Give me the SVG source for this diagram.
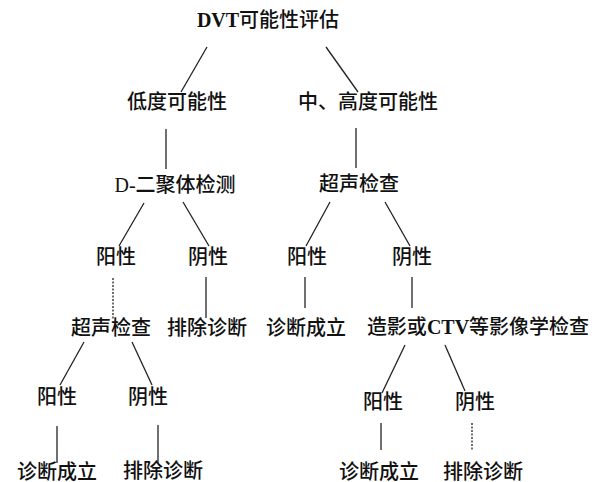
<svg xmlns="http://www.w3.org/2000/svg" width="600" height="482" viewBox="0 0 600 482">
<style>
text{font-family:"Liberation Serif","Noto Sans CJK SC",serif;font-size:20px;font-weight:500;fill:#111;text-anchor:middle;dominant-baseline:central}
.b{font-weight:bold}
.c line{stroke:#222;stroke-width:1.3}
.d{stroke-dasharray:2 1.5}
</style>
<rect width="600" height="482" fill="#fff"/>
<g class="c" id="connectors">
<line x1="207" y1="47" x2="181" y2="92"/>
<line x1="326" y1="47" x2="358" y2="92"/>
<line x1="166" y1="129" x2="166" y2="169"/>
<line x1="356" y1="128" x2="356" y2="168"/>
<line x1="144" y1="203" x2="119" y2="246"/>
<line x1="183" y1="202" x2="209" y2="246"/>
<line x1="330" y1="202" x2="306" y2="246"/>
<line x1="385" y1="202" x2="410" y2="246"/>
<line class="d" x1="113" y1="278" x2="113" y2="320"/>
<line x1="206" y1="277" x2="206" y2="318"/>
<line x1="305" y1="277" x2="305" y2="308"/>
<line x1="412" y1="277" x2="412" y2="308"/>
<line x1="84" y1="342" x2="60" y2="385"/>
<line x1="132" y1="342" x2="152" y2="385"/>
<line x1="405" y1="345" x2="382" y2="393"/>
<line x1="445" y1="345" x2="465" y2="391"/>
<line x1="57" y1="426" x2="57" y2="463"/>
<line x1="158" y1="425" x2="158" y2="463"/>
<line x1="381" y1="423" x2="381" y2="450"/>
<line class="d" x1="472" y1="423" x2="472" y2="450"/>
</g>
<g id="n1"><text x="268" y="20"><tspan class="b">DVT</tspan>可能性评估</text></g>
<g id="n2"><text x="177" y="102">低度可能性</text></g>
<g id="n3"><text x="368" y="102">中、高度可能性</text></g>
<g id="n4"><text x="175" y="185">D-二聚体检测</text></g>
<g id="n5"><text x="359" y="184">超声检查</text></g>
<g id="n6"><text x="116" y="257">阳性</text></g>
<g id="n7"><text x="208" y="257">阴性</text></g>
<g id="n8"><text x="307" y="257">阳性</text></g>
<g id="n9"><text x="412" y="257">阴性</text></g>
<g id="n10"><text x="111" y="328">超声检查</text></g>
<g id="n11"><text x="207" y="328">排除诊断</text></g>
<g id="n12"><text x="306" y="328">诊断成立</text></g>
<g id="n13"><text x="478" y="327">造影或<tspan class="b">CTV</tspan>等影像学检查</text></g>
<g id="n14"><text x="57" y="397">阳性</text></g>
<g id="n15"><text x="148" y="397">阴性</text></g>
<g id="n16"><text x="383" y="402">阳性</text></g>
<g id="n17"><text x="475" y="402">阴性</text></g>
<g id="n18"><text x="57" y="472">诊断成立</text></g>
<g id="n19"><text x="163" y="471">排除诊断</text></g>
<g id="n20"><text x="379" y="472">诊断成立</text></g>
<g id="n21"><text x="483" y="472">排除诊断</text></g>
</svg>
